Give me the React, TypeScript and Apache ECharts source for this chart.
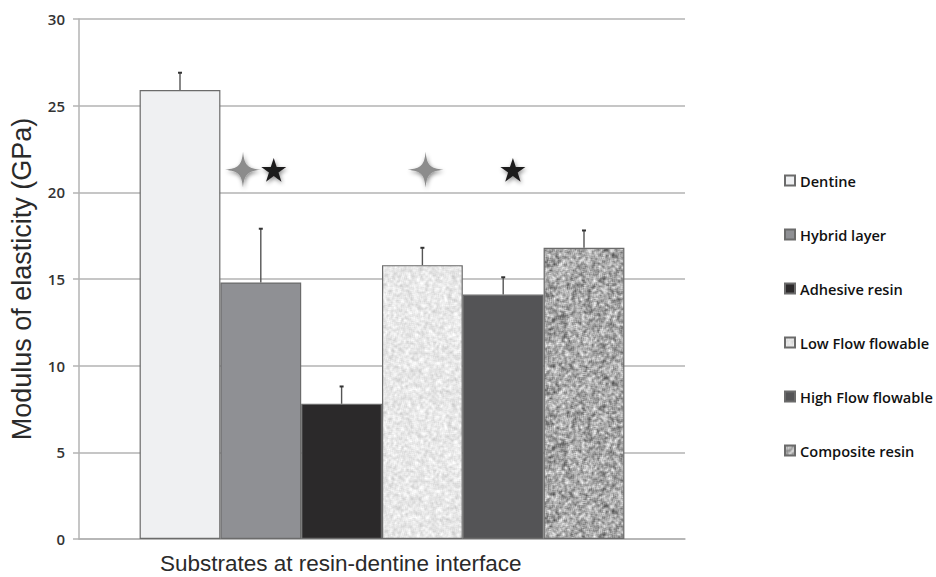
import React, { useEffect, useRef } from 'react';
import * as echarts from 'echarts';

const substrates = ['Dentine', 'Hybrid layer', 'Adhesive resin', 'Low Flow flowable', 'High Flow flowable', 'Composite resin'];
const meanModulus = [25.9, 14.8, 7.8, 15.8, 14.1, 16.8];
const sdModulus = [1.0, 3.1, 1.0, 1.0, 1.0, 1.0];
const xTitle = 'Substrates at resin-dentine interface';
const yTitle = 'Modulus of elasticity (GPa)';
const yMin = 0;
const yMax = 30;
const yStep = 5;
// significance markers: bar they refer to, shift inside that bar (fraction of bar width), height, kind
const markerBar = [1, 1, 3, 4];
const markerShift = [-0.22, 0.16, 0.04, 0.12];
const markerValue = [21.3, 21.3, 21.3, 21.3];
const markerKind = ['cross', 'star', 'cross', 'star'];

const FOUR_STAR = 'M50,0 C54,38 62,46 100,50 C62,54 54,62 50,100 C46,62 38,54 0,50 C38,46 46,38 50,0 Z';
const FIVE_STAR = 'M50,0 L61.8,36.2 L100,36.2 L69.1,58.8 L80.9,95.1 L50,72.7 L19.1,95.1 L30.9,58.8 L0,36.2 L38.2,36.2 Z';

function noise(base: number, spread: number, seed: number, blur: number) {
  const size = 128;
  const c = document.createElement('canvas');
  c.width = size;
  c.height = size;
  const ctx = c.getContext('2d')!;
  let s = seed;
  const rnd = () => {
    s = (s * 1664525 + 1013904223) % 4294967296;
    return s / 4294967296;
  };
  const raw: number[] = [];
  for (let i = 0; i < size * size; i++) raw.push(rnd() - 0.5);
  const img = ctx.createImageData(size, size);
  for (let y = 0; y < size; y++) {
    for (let x = 0; x < size; x++) {
      let acc = 0;
      let cnt = 0;
      for (let dy = -blur; dy <= blur; dy++) {
        for (let dx = -blur; dx <= blur; dx++) {
          const xx = (x + dx + size) % size;
          const yy = (y + dy + size) % size;
          acc += raw[yy * size + xx];
          cnt++;
        }
      }
      const m = acc / Math.sqrt(cnt);
      const v = Math.max(0, Math.min(255, Math.round(base + m * 2 * spread)));
      const p = (y * size + x) * 4;
      img.data[p] = v;
      img.data[p + 1] = v;
      img.data[p + 2] = v;
      img.data[p + 3] = 255;
    }
  }
  ctx.putImageData(img, 0, 0);
  return c;
}

export default function App() {
  const ref = useRef<HTMLDivElement>(null);
  useEffect(() => {
    if (!ref.current) return;
    const chart = echarts.init(ref.current, undefined, { renderer: 'svg' });
    const lowFlowPattern = noise(232, 14, 12345, 1);
    const compositePattern = noise(168, 42, 67890, 1);
    const fills: any[] = [
      '#eff0f2',
      '#8f9094',
      '#2b292a',
      { image: lowFlowPattern, repeat: 'repeat' },
      '#545456',
      { image: compositePattern, repeat: 'repeat' },
    ];
    const n = substrates.length;
    const barSeries = substrates.map((name, i) => ({
      name,
      type: 'bar',
      barGap: '0%',
      barCategoryGap: '20%',
      data: [meanModulus[i]],
      itemStyle: { color: fills[i], borderColor: '#6b6b6b', borderWidth: 1.2 },
      z: 2,
    }));
    const barCenter = (params: any, i: number) => {
      const cs = params.coordSys;
      const bw = (cs.width * 0.8) / n;
      return { x: cs.x + cs.width * 0.1 + bw * (i + 0.5), bw };
    };
    const errorSeries = {
      type: 'custom',
      name: 'sd',
      z: 5,
      data: substrates.map((_, i) => [0, i, meanModulus[i], sdModulus[i]]),
      encode: { x: 0, y: 2 },
      renderItem: (params: any, api: any) => {
        const i = api.value(1);
        const mean = api.value(2);
        const sd = api.value(3);
        const { x } = barCenter(params, i);
        const y0 = api.coord([0, mean])[1];
        const y1 = api.coord([0, mean + sd])[1];
        return {
          type: 'group',
          children: [
            { type: 'line', shape: { x1: x, y1: y0, x2: x, y2: y1 }, style: { stroke: '#555', lineWidth: 1.4 } },
            { type: 'line', shape: { x1: x - 2, y1: y1, x2: x + 2, y2: y1 }, style: { stroke: '#333', lineWidth: 2 } },
          ],
        };
      },
    };
    const markerSeries = {
      type: 'custom',
      name: 'markers',
      z: 6,
      data: markerBar.map((b, k) => [0, b, markerValue[k], markerShift[k], markerKind[k] === 'star' ? 1 : 0]),
      encode: { x: 0, y: 2 },
      renderItem: (params: any, api: any) => {
        const b = api.value(1);
        const v = api.value(2);
        const shift = api.value(3);
        const isStar = api.value(4) === 1;
        const { x, bw } = barCenter(params, b);
        const cx = x + shift * bw;
        const cy = api.coord([0, v])[1];
        const w = isStar ? 25 : 39;
        const h = isStar ? 26 : 36;
        return {
          type: 'path',
          shape: { pathData: isStar ? FIVE_STAR : FOUR_STAR, x: cx - w / 2, y: cy - h / 2, width: w, height: h },
          style: {
            fill: isStar ? '#1d1b1c' : '#8c8c8c',
            shadowBlur: 4,
            shadowColor: 'rgba(0,0,0,0.45)',
            shadowOffsetX: 1,
            shadowOffsetY: 2,
          },
        };
      },
    };
    chart.setOption({
      animation: false,
      backgroundColor: '#ffffff',
      title: {
        text: xTitle,
        left: 155,
        top: 547,
        textStyle: { fontSize: 22.5, fontWeight: 'normal', fontFamily: 'Liberation Sans', color: '#2a2a2a' },
      },
      grid: { left: 72, right: 251, top: 19, bottom: 38 },
      legend: {
        data: substrates,
        orient: 'vertical',
        left: 779,
        top: 168,
        itemGap: 39,
        itemWidth: 10,
        itemHeight: 10,
        icon: 'rect',
        selectedMode: false,
        textStyle: { fontSize: 14.6, fontWeight: 600, fontFamily: 'Open Sans', color: '#111' },
      },
      xAxis: {
        type: 'category',
        data: [xTitle],
        axisLine: { show: true, lineStyle: { color: '#b3b3b3', width: 1.5 } },
        axisTick: { show: false },
        axisLabel: { show: false },
      },
      yAxis: {
        type: 'value',
        min: yMin,
        max: yMax,
        interval: yStep,
        name: yTitle,
        nameLocation: 'middle',
        nameGap: 44,
        nameTextStyle: { fontSize: 27, fontFamily: 'Liberation Sans', color: '#2a2a2a' },
        axisLine: { show: true, lineStyle: { color: '#b3b3b3', width: 1.5 } },
        axisTick: { show: true, inside: false, length: 6, lineStyle: { color: '#b3b3b3', width: 1.5 } },
        axisLabel: { fontSize: 15, fontWeight: 600, fontFamily: 'Open Sans', color: '#333', margin: 14 },
        splitLine: { show: true, lineStyle: { color: '#b3b3b3', width: 1.5 } },
      },
      series: [...barSeries, errorSeries, markerSeries],
    });
    return () => chart.dispose();
  }, []);
  return <div ref={ref} style={{ position: 'fixed', left: 0, top: 0, width: 936, height: 577 }} />;
}
